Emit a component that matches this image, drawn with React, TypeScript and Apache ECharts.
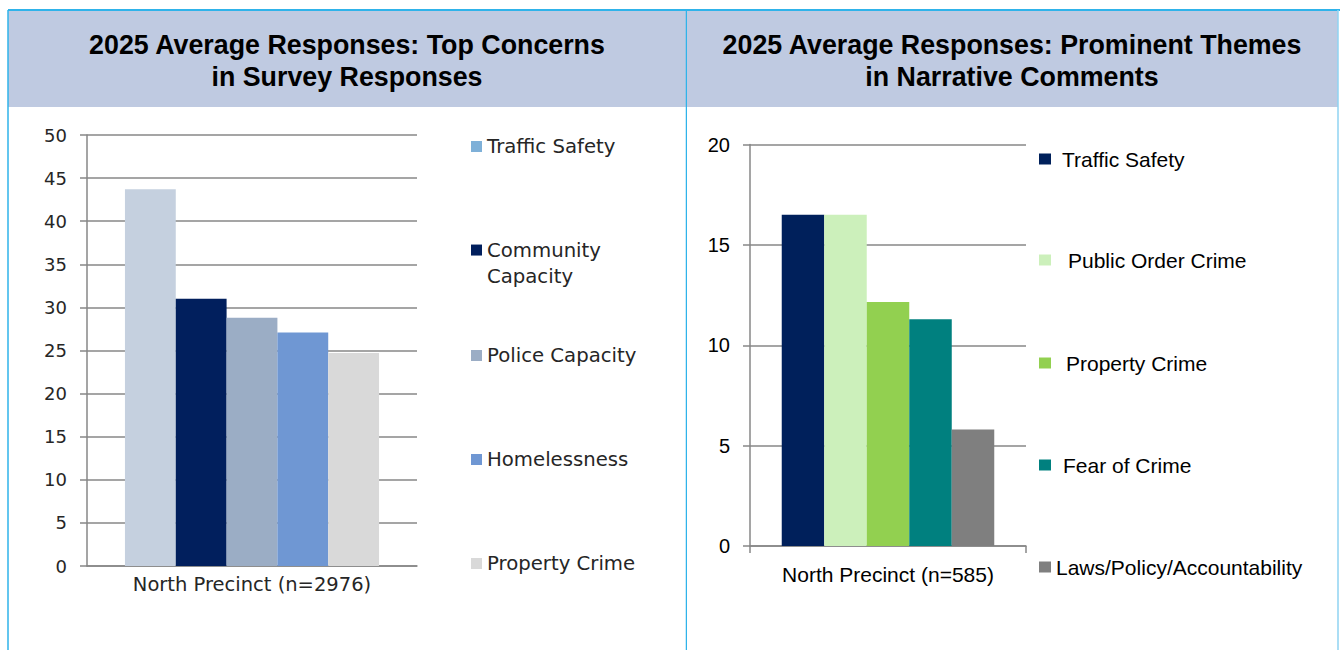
import React, { useEffect, useRef } from 'react';
import * as echarts from 'echarts';

// ---------- data ----------
const leftCategories = ['North Precinct (n=2976)'];
const leftNames = ['Traffic Safety', 'Community Capacity', 'Police Capacity', 'Homelessness', 'Property Crime'];
const leftValues = [43.7, 31.0, 28.8, 27.1, 24.7];
const leftLegendLabels = ['Traffic Safety', '\nCommunity\nCapacity', 'Police Capacity', 'Homelessness', 'Property Crime'];

const rightCategories = ['North Precinct (n=585)'];
const rightNames = ['Traffic Safety', 'Public Order Crime', 'Property Crime', 'Fear of Crime', 'Laws/Policy/Accountability'];
const rightValues = [16.5, 16.5, 12.15, 11.3, 5.8];

const leftTitle = '2025 Average Responses: Top Concerns\nin Survey Responses';
const rightTitle = '2025 Average Responses: Prominent Themes\nin Narrative Comments';

// ---------- styles ----------
const leftColors = ['#c5d0df', '#011f5d', '#9badc5', '#6f97d3', '#d9d9d9'];
const leftLegendColors = ['#7eb0d8', '#011f5d', '#9badc5', '#6f97d3', '#d9d9d9'];
const rightColors = ['#00205b', '#ccf0bb', '#92d050', '#00807f', '#7f7f7f'];

const leftLegendTops = [136.5, 210, 345.5, 449.5, 553.5];
const rightLegendCenters = [159, 260, 363, 465, 567];
const rightLegendPad = [6, 12, 10, 7, 0];

const BORDER = '#2fb3ea';
const HEADER = '#bfcae1';
const AXIS = '#878787';
const LEFT_FONT = 'DejaVu Sans';
const RIGHT_FONT = 'Liberation Sans, Arial, sans-serif';

function frame(width: number, leftEdge: boolean, titleX: number, title: string) {
  const els: any[] = [
    { type: 'rect', shape: { x: leftEdge ? 8 : 0, y: 10, width: leftEdge ? width - 8 : width - 2, height: 97 }, style: { fill: HEADER }, silent: true },
    { type: 'line', shape: { x1: leftEdge ? 8 : 0, y1: 10, x2: width, y2: 10 }, style: { stroke: BORDER, lineWidth: 2 }, silent: true },
    {
      type: 'text', x: titleX, y: 61,
      style: {
        text: title, align: 'center', verticalAlign: 'middle',
        font: 'bold 26.8px "Liberation Sans", Arial, sans-serif', lineHeight: 32, fill: '#000',
      },
      silent: true,
    },
  ];
  if (leftEdge) {
    els.push({ type: 'line', shape: { x1: 8, y1: 10, x2: 8, y2: 650 }, style: { stroke: BORDER, lineWidth: 1.5 }, silent: true });
    els.push({ type: 'line', shape: { x1: 686.5, y1: 10, x2: 686.5, y2: 650 }, style: { stroke: BORDER, lineWidth: 1.5 }, silent: true });
  } else {
    els.push({ type: 'line', shape: { x1: 651, y1: 10, x2: 651, y2: 650 }, style: { stroke: '#8fd3f2', lineWidth: 1.5 }, silent: true });
  }
  return els;
}

function leftOption(): any {
  return {
    animation: false,
    graphic: frame(687, true, 347, leftTitle),
    grid: { left: 87, top: 135, width: 330, height: 431 },
    xAxis: {
      type: 'category', data: leftCategories,
      axisLine: { lineStyle: { color: AXIS, width: 1.5 } },
      axisTick: { show: false },
      axisLabel: { fontFamily: LEFT_FONT, fontSize: 19.5, color: '#262626', margin: 8 },
    },
    yAxis: {
      type: 'value', min: 0, max: 50, interval: 5,
      axisLine: { show: true, lineStyle: { color: AXIS, width: 1.5 } },
      axisTick: { show: true, length: 7, lineStyle: { color: AXIS, width: 1.5 } },
      splitLine: { lineStyle: { color: AXIS, width: 1.5 } },
      axisLabel: { fontFamily: LEFT_FONT, fontSize: 18, color: '#262626', margin: 20 },
    },
    legend: leftNames.map((n, i) => ({
      data: [{ name: n, itemStyle: { color: leftLegendColors[i] } }],
      left: 471, top: leftLegendTops[i], padding: 0,
      itemWidth: 11, itemHeight: 11, icon: 'rect', selectedMode: false,
      formatter: () => leftLegendLabels[i],
      textStyle: i === 1
        ? { fontFamily: LEFT_FONT, fontSize: 19.7, color: '#262626', lineHeight: 26.7 }
        : { fontFamily: LEFT_FONT, fontSize: 19.7, color: '#262626' },
    })),
    series: leftNames.map((n, i) => ({
      type: 'bar', name: n, data: [leftValues[i]],
      barGap: '0%', barCategoryGap: '23%',
      itemStyle: { color: leftColors[i] },
    })),
  };
}

function rightOption(): any {
  return {
    animation: false,
    graphic: frame(653, false, 325, rightTitle),
    grid: { left: 63, top: 144.5, width: 276, height: 401.5 },
    xAxis: {
      type: 'category', data: rightCategories,
      axisLine: { lineStyle: { color: AXIS, width: 1.5 } },
      axisTick: { show: true, length: 7, lineStyle: { color: AXIS, width: 1.5 } },
      axisLabel: { fontFamily: RIGHT_FONT, fontSize: 21, color: '#000', margin: 17.5 },
    },
    yAxis: {
      type: 'value', min: 0, max: 20, interval: 5,
      axisLine: { show: true, lineStyle: { color: AXIS, width: 1.5 } },
      axisTick: { show: true, length: 7, lineStyle: { color: AXIS, width: 1.5 } },
      splitLine: { lineStyle: { color: AXIS, width: 1.5 } },
      axisLabel: { fontFamily: RIGHT_FONT, fontSize: 20, color: '#000', margin: 20 },
    },
    legend: rightNames.map((n, i) => ({
      data: [n],
      left: 352, top: rightLegendCenters[i] - 10.5, padding: 0,
      itemWidth: 12, itemHeight: 11, icon: 'rect', selectedMode: false,
      textStyle: { fontFamily: RIGHT_FONT, fontSize: 21, color: '#000', padding: [0, 0, 0, rightLegendPad[i]] },
    })),
    series: rightNames.map((n, i) => ({
      type: 'bar', name: n, data: [rightValues[i]],
      barGap: '0%', barCategoryGap: '23%',
      itemStyle: { color: rightColors[i] },
    })),
  };
}

export default function App() {
  const leftRef = useRef<HTMLDivElement>(null);
  const rightRef = useRef<HTMLDivElement>(null);
  useEffect(() => {
    const l = echarts.init(leftRef.current!, undefined, { renderer: 'svg' });
    const r = echarts.init(rightRef.current!, undefined, { renderer: 'svg' });
    l.setOption(leftOption());
    r.setOption(rightOption());
    return () => { l.dispose(); r.dispose(); };
  }, []);
  return (
    <div style={{ position: 'fixed', left: 0, top: 0, width: 1340, height: 650, background: '#fff' }}>
      <div ref={leftRef} style={{ position: 'absolute', left: 0, top: 0, width: 687, height: 650 }} />
      <div ref={rightRef} style={{ position: 'absolute', left: 687, top: 0, width: 653, height: 650 }} />
    </div>
  );
}
